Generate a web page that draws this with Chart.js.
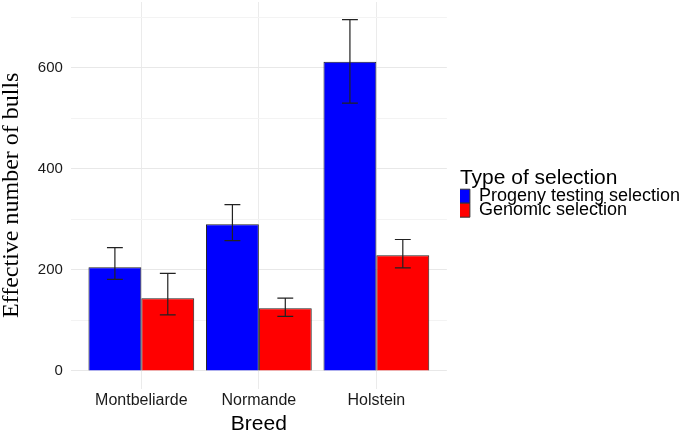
<!DOCTYPE html>
<html>
<head>
<meta charset="utf-8">
<script src="https://cdn.jsdelivr.net/npm/chart.js@4/dist/chart.umd.min.js"></script>
<style>
  html, body { margin: 0; padding: 0; background: #fff; }
  #wrap { width: 685px; height: 434px; }
</style>
</head>
<body>
<div id="wrap"><canvas id="chart"></canvas></div>
<script>
const categories = ['Montbeliarde', 'Normande', 'Holstein'];

const progeny = [205, 290, 612];
const progenyLow = [181, 258, 530];
const progenyHigh = [244, 329, 695];

const genomic = [144, 124, 229];
const genomicLow = [111, 108, 204];
const genomicHigh = [193, 144, 260];

const yTicks = [0, 100, 200, 300, 400, 500, 600, 700];

// error bars drawn from the y scale of the chart
const errorBars = {
    id: 'errorBars',
    afterDatasetsDraw(chart) {
        const ctx = chart.ctx;
        const y = chart.scales.y;
        chart.data.datasets.forEach((ds, i) => {
            const meta = chart.getDatasetMeta(i);
            meta.data.forEach((bar, j) => {
                const top = y.getPixelForValue(ds.errHigh[j]);
                const bot = y.getPixelForValue(ds.errLow[j]);
                const half = bar.width * 0.15;
                ctx.save();
                ctx.strokeStyle = '#222';
                ctx.lineWidth = 1.2;
                ctx.beginPath();
                ctx.moveTo(bar.x, top); ctx.lineTo(bar.x, bot);
                ctx.moveTo(bar.x - half, top); ctx.lineTo(bar.x + half, top);
                ctx.moveTo(bar.x - half, bot); ctx.lineTo(bar.x + half, bot);
                ctx.stroke();
                ctx.restore();
            });
        });
    }
};

const isMajor = v => v % 200 === 0;
const tickVal = c => (c && c.tick ? c.tick.value : 0);

const chart = new Chart(document.getElementById('chart'), {
    type: 'bar',
    data: {
        datasets: [{
            label: 'Progeny testing selection',
            data: progeny.map((v, i) => ({ x: i + 1, y: v })),
            errLow: progenyLow,
            errHigh: progenyHigh,
            backgroundColor: '#0000ff',
            borderColor: '#222',
            borderWidth: 1,
            categoryPercentage: 0.9,
            barPercentage: 1
        }, {
            label: 'Genomic selection',
            data: genomic.map((v, i) => ({ x: i + 1, y: v })),
            errLow: genomicLow,
            errHigh: genomicHigh,
            backgroundColor: '#ff0000',
            borderColor: '#222',
            borderWidth: 1,
            categoryPercentage: 0.9,
            barPercentage: 1
        }]
    },
    options: {
        responsive: true,
        maintainAspectRatio: false,
        animation: false,
        layout: { padding: { top: 2, right: -5, left: -3, bottom: -3 } },
        plugins: {
            tooltip: { enabled: false },
            legend: {
                position: 'right',
                align: 'start',
                maxWidth: 240,
                title: {
                    display: true,
                    text: 'Type of selection',
                    position: 'start',
                    color: '#000',
                    font: { family: 'Liberation Sans', size: 21 },
                    padding: { top: 166, bottom: -2 }
                },
                labels: {
                    boxWidth: 14,
                    boxHeight: 14,
                    padding: -4,
                    color: '#000',
                    font: { family: 'Liberation Sans', size: 18 },
                    generateLabels(c) {
                        return c.data.datasets.map((ds, i) => ({
                            text: ds.label,
                            fillStyle: ds.backgroundColor,
                            strokeStyle: '#333',
                            lineWidth: 1,
                            datasetIndex: i
                        }));
                    }
                }
            }
        },
        scales: {
            x: {
                type: 'linear',
                min: 0.4,
                max: 3.6,
                offset: false,
                afterBuildTicks(scale) {
                    scale.ticks = categories.map((c, i) => ({ value: i + 1 }));
                },
                ticks: {
                    callback: v => categories[v - 1],
                    color: '#1a1a1a',
                    font: { family: 'Liberation Sans', size: 16 },
                    padding: 2,
                    maxRotation: 0
                },
                grid: { color: '#ebebeb', drawTicks: false, offset: false },
                border: { display: false },
                title: {
                    display: true,
                    text: 'Breed',
                    color: '#000',
                    font: { family: 'Liberation Sans', size: 21 },
                    padding: { top: 0, bottom: 0 }
                }
            },
            y: {
                min: -35,
                max: 730,
                afterBuildTicks(scale) {
                    scale.ticks = yTicks.map(v => ({ value: v }));
                },
                afterFit(scale) { scale.paddingTop = 0; },
                ticks: {
                    callback: v => (isMajor(v) ? v : ''),
                    color: '#1a1a1a',
                    font: c => ({ family: 'Liberation Sans', size: isMajor(tickVal(c)) ? 15 : 1 }),
                    padding: 8
                },
                grid: {
                    color: c => (isMajor(tickVal(c)) ? '#e8e8e8' : '#f3f3f3'),
                    drawTicks: false
                },
                border: { display: false },
                title: {
                    display: true,
                    text: 'Effective number of bulls',
                    color: '#000',
                    font: { family: 'Liberation Serif', size: 24 },
                    padding: { top: 0, bottom: 4 }
                }
            },
            // empty spacer between the plot and the legend
            gap: {
                position: 'right',
                display: true,
                grid: { display: false },
                border: { display: false },
                ticks: { display: false },
                afterFit(scale) { scale.width = 13; scale.paddingTop = 0; }
            }
        }
    },
    plugins: [errorBars]
});
</script>
</body>
</html>
